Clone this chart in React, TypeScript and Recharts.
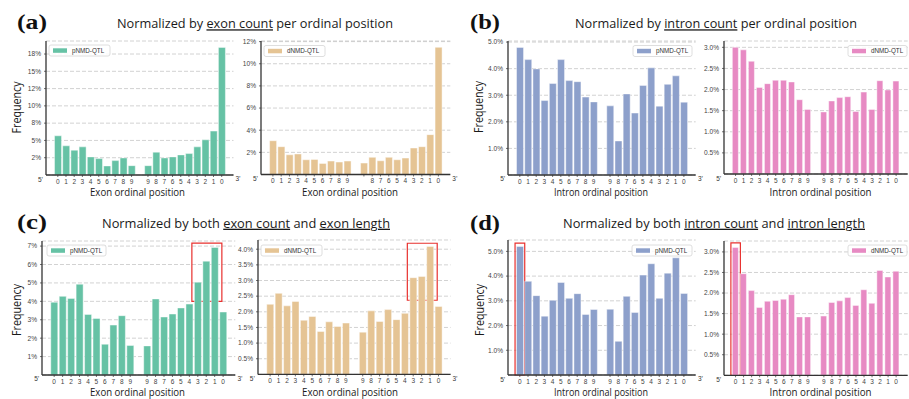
import React from 'react';
import { BarChart, Bar, XAxis, YAxis, CartesianGrid, ReferenceArea } from 'recharts';

// Ordinal position labels: counted from the 5' end, then from the 3' end
const fromFivePrime = ['0', '1', '2', '3', '4', '5', '6', '7', '8', '9'];
const fromThreePrime = ['9', '8', '7', '6', '5', '4', '3', '2', '1', '0'];
const fromThreePrimeExonD = ['', '8', '7', '6', '5', '4', '3', '2', '1', '0'];

// Frequencies (%), 10 positions from the 5' end followed by 10 from the 3' end
const exonCountP = [5.67, 4.22, 3.59, 4.07, 2.62, 2.37, 1.31, 2.08, 2.47, 1.35, 1.35, 3.3, 2.47, 2.62, 2.91, 3.1, 4.07, 5.09, 6.35, 18.46];
const exonCountD = [3.05, 2.51, 1.78, 1.85, 1.33, 1.36, 1.0, 1.21, 1.12, 1.21, 1.03, 1.55, 1.24, 1.55, 1.33, 1.48, 2.39, 2.51, 3.6, 11.48];
const intronCountP = [4.8, 4.34, 3.99, 2.8, 3.44, 4.34, 3.55, 3.51, 2.93, 2.75, 2.6, 1.28, 3.05, 2.33, 3.37, 4.03, 2.59, 3.41, 3.73, 2.74];
const intronCountD = [3.0, 2.94, 2.67, 2.05, 2.14, 2.22, 2.22, 2.18, 1.76, 1.53, 1.47, 1.73, 1.81, 1.83, 1.48, 1.94, 1.53, 2.21, 1.99, 2.2];
const exonLengthP = [3.95, 4.27, 4.16, 4.93, 3.29, 3.07, 1.67, 2.71, 3.22, 1.6, 1.58, 4.13, 3.15, 3.31, 3.64, 3.85, 5.04, 6.18, 6.93, 3.42];
const exonLengthD = [2.24, 2.59, 2.19, 2.33, 1.73, 1.85, 1.37, 1.68, 1.53, 1.64, 1.35, 2.03, 1.69, 2.07, 1.75, 1.95, 3.09, 3.13, 4.09, 2.17];
const intronLengthP = [5.2, 3.79, 3.21, 2.38, 3.02, 3.74, 3.1, 3.29, 2.45, 2.65, 2.66, 1.36, 3.18, 2.53, 4.04, 4.5, 3.1, 4.12, 4.74, 3.3];
const intronLengthD = [3.11, 2.47, 2.06, 1.65, 1.8, 1.82, 1.85, 1.96, 1.42, 1.42, 1.44, 1.77, 1.81, 1.89, 1.7, 2.08, 1.75, 2.55, 2.39, 2.53];

// Y tick values and their printed labels
const ticksExonCountP = [2.5, 5, 7.5, 10, 12.5, 15, 17.5];
const labelsExonCountP = ['2%', '5%', '8%', '10%', '12%', '15%', '18%'];
const ticksExonCountD = [2, 4, 6, 8, 10, 12];
const labelsExonCountD = ['2%', '4%', '6%', '8%', '10%', '12%'];
const ticksWholeFive = [1, 2, 3, 4, 5];
const labelsWholeFive = ['1.0%', '2.0%', '3.0%', '4.0%', '5.0%'];
const ticksHalfThree = [0.5, 1, 1.5, 2, 2.5, 3];
const labelsHalfThree = ['0.5%', '1.0%', '1.5%', '2.0%', '2.5%', '3.0%'];
const ticksExonLengthP = [1, 2, 3, 4, 5, 6, 7];
const labelsExonLengthP = ['1%', '2%', '3%', '4%', '5%', '6%', '7%'];
const ticksHalfFour = [0.5, 1, 1.5, 2, 2.5, 3, 3.5, 4];
const labelsHalfFour = ['0.5%', '1.0%', '1.5%', '2.0%', '2.5%', '3.0%', '3.5%', '4.0%'];

// Highlight boxes: [slot from, slot to, frequency from, frequency to]
const boxExonLengthP = [16.3, 19.85, 4.0, 7.16];
const boxExonLengthD = [16.3, 19.85, 2.37, 4.19];
const boxIntronLengthP = [-0.58, 0.6, 0, 5.33];
const boxIntronLengthD = [-0.58, 0.6, 0, 3.22];

const GREEN = '#66c2a5';
const TAN = '#e5c494';
const BLUE = '#8da0cb';
const PINK = '#e78ac3';
const SPINE = '#333333';
const X_DOMAIN: [number, number] = [-1.44, 21.44];
const TICK_FONT = 'Liberation Sans, Arial, sans-serif';
const TEXT_FONT = 'Open Sans, Noto Sans, sans-serif';
const CANVAS_W = 909;
const CANVAS_H = 399;

const slotTicks = [...fromFivePrime.map((_, k) => k), ...fromThreePrime.map((_, k) => k + 11)];

type PanelCfg = {
  values: number[];
  name: string;
  color: string;
  threePrime: string[];
  yTicks: number[];
  yLabels: string[];
  plot: { l: number; t: number; r: number; b: number };
  legend: { x: number; y: number; w: number };
  box?: number[];
};

const panels: PanelCfg[] = [
  { values: exonCountP, name: 'pNMD-QTL', color: GREEN, threePrime: fromThreePrime, yTicks: ticksExonCountP, yLabels: labelsExonCountP, plot: { l: 46, t: 41, r: 233.5, b: 175 }, legend: { x: 49, y: 45, w: 61 } },
  { values: exonCountD, name: 'dNMD-QTL', color: TAN, threePrime: fromThreePrimeExonD, yTicks: ticksExonCountD, yLabels: labelsExonCountD, plot: { l: 261, t: 41, r: 450.3, b: 174.5 }, legend: { x: 264, y: 45.5, w: 61 } },
  { values: intronCountP, name: 'pNMD-QTL', color: BLUE, threePrime: fromThreePrime, yTicks: ticksWholeFive, yLabels: labelsWholeFive, plot: { l: 508.3, t: 40.7, r: 696, b: 174.7 }, legend: { x: 633, y: 45.5, w: 59 } },
  { values: intronCountD, name: 'dNMD-QTL', color: PINK, threePrime: fromThreePrime, yTicks: ticksHalfThree, yLabels: labelsHalfThree, plot: { l: 724.3, t: 41.3, r: 908, b: 174.3 }, legend: { x: 848, y: 45.5, w: 59 } },
  { values: exonLengthP, name: 'pNMD-QTL', color: GREEN, threePrime: fromThreePrime, yTicks: ticksExonLengthP, yLabels: labelsExonLengthP, plot: { l: 42.2, t: 240.7, r: 235.5, b: 374.7 }, legend: { x: 47, y: 245, w: 59 }, box: boxExonLengthP },
  { values: exonLengthD, name: 'dNMD-QTL', color: TAN, threePrime: fromThreePrime, yTicks: ticksHalfFour, yLabels: labelsHalfFour, plot: { l: 257.9, t: 240.3, r: 450.5, b: 374.7 }, legend: { x: 261, y: 245, w: 61 }, box: boxExonLengthD },
  { values: intronLengthP, name: 'pNMD-QTL', color: BLUE, threePrime: fromThreePrime, yTicks: ticksWholeFive, yLabels: labelsWholeFive, plot: { l: 508.3, t: 240, r: 696, b: 375 }, legend: { x: 632, y: 245, w: 60 }, box: boxIntronLengthP },
  { values: intronLengthD, name: 'dNMD-QTL', color: PINK, threePrime: fromThreePrime, yTicks: ticksHalfThree, yLabels: labelsHalfThree, plot: { l: 724.3, t: 240.7, r: 908, b: 375 }, legend: { x: 848, y: 245, w: 59 }, box: boxIntronLengthD },
];

const PAD_L = 44;
const PAD_T = 6;
const PAD_R = 6;
const PAD_B = 22;

function Panel({ cfg }: { cfg: PanelCfg }) {
  const { l, t, r, b } = cfg.plot;
  const rows = cfg.values.map((v, k) => ({ slot: k < 10 ? k : k + 1, v }));
  const yTop = Math.max(...cfg.values) * 1.05;
  const slotLabel = (s: number) => (s < 10 ? fromFivePrime[s] : cfg.threePrime[s - 11]);
  const yLabel = (v: number) => {
    const i = cfg.yTicks.indexOf(v);
    return i >= 0 ? cfg.yLabels[i] : '';
  };
  const spine = { stroke: SPINE, strokeWidth: 1.3 };
  return (
    <div style={{ position: 'absolute', left: l - PAD_L, top: t - PAD_T }}>
      <BarChart
        width={r - l + PAD_L + PAD_R}
        height={b - t + PAD_T + PAD_B}
        data={rows}
        margin={{ top: PAD_T, right: PAD_R, bottom: 0, left: 0 }}
        barCategoryGap="10%"
      >
        <CartesianGrid vertical={false} stroke="#c6c6c6" strokeDasharray="4 2" strokeWidth={0.8} />
        <XAxis
          dataKey="slot"
          type="number"
          domain={X_DOMAIN}
          allowDataOverflow
          ticks={slotTicks}
          interval={0}
          tickFormatter={slotLabel}
          tick={{ fontSize: 6.5, fill: '#444', fontFamily: TICK_FONT }}
          tickSize={2}
          tickMargin={2}
          height={PAD_B}
          axisLine={spine}
          tickLine={{ stroke: SPINE, strokeWidth: 0.7 }}
        />
        <XAxis xAxisId="top" orientation="top" dataKey="slot" type="number" domain={X_DOMAIN} allowDataOverflow tick={false} tickLine={false} height={0} axisLine={spine} />
        <YAxis
          type="number"
          domain={[0, yTop]}
          allowDataOverflow
          ticks={cfg.yTicks}
          interval={0}
          tickFormatter={yLabel}
          tick={{ fontSize: 6.6, fill: '#444', fontFamily: TICK_FONT }}
          tickSize={2}
          tickMargin={3}
          width={PAD_L}
          axisLine={spine}
          tickLine={{ stroke: SPINE, strokeWidth: 0.7 }}
        />
        <YAxis yAxisId="right" orientation="right" type="number" domain={[0, yTop]} allowDataOverflow tick={false} tickLine={false} width={0} axisLine={spine} />
        <Bar dataKey="v" fill={cfg.color} stroke="#ffffff" strokeOpacity={0.55} strokeWidth={0.8} isAnimationActive={false} />
        {cfg.box && (
          <ReferenceArea
            x1={cfg.box[0]}
            x2={cfg.box[1]}
            y1={cfg.box[2]}
            y2={cfg.box[3]}
            fill="none"
            fillOpacity={0}
            stroke="#e8302e"
            strokeWidth={1.2}
            ifOverflow="visible"
          />
        )}
      </BarChart>
    </div>
  );
}

type Part = { s: string; u?: boolean };
const titles: { parts: Part[]; x: number; y: number; w: number }[] = [
  { parts: [{ s: 'Normalized by ' }, { s: 'exon count', u: true }, { s: ' per ordinal position' }], x: 255, y: 28.3, w: 276 },
  { parts: [{ s: 'Normalized by ' }, { s: 'intron count', u: true }, { s: ' per ordinal position' }], x: 716, y: 28.3, w: 282 },
  { parts: [{ s: 'Normalized by both ' }, { s: 'exon count', u: true }, { s: ' and ' }, { s: 'exon length', u: true }], x: 246, y: 227.7, w: 288 },
  { parts: [{ s: 'Normalized by both ' }, { s: 'intron count', u: true }, { s: ' and ' }, { s: 'intron length', u: true }], x: 714, y: 227.7, w: 302 },
];
const letters = [
  { s: '(a)', x: 17, y: 29 },
  { s: '(b)', x: 470, y: 29 },
  { s: '(c)', x: 17, y: 229 },
  { s: '(d)', x: 470, y: 229.5 },
];
const freqLabels = [
  { x: 21, y: 107.5 },
  { x: 482.5, y: 107 },
  { x: 21, y: 310 },
  { x: 483.5, y: 310 },
];
const axisTitles = [
  { s: 'Exon ordinal position', x: 137.5, y: 195.5, w: 95 },
  { s: 'Exon ordinal position', x: 350, y: 195.5, w: 96 },
  { s: 'Intron ordinal position', x: 601, y: 196, w: 94 },
  { s: 'Intron ordinal position', x: 820.5, y: 196, w: 102 },
  { s: 'Exon ordinal position', x: 137.5, y: 395.5, w: 95 },
  { s: 'Exon ordinal position', x: 350, y: 395.5, w: 96 },
  { s: 'Intron ordinal position', x: 601, y: 396, w: 94 },
  { s: 'Intron ordinal position', x: 820.5, y: 396, w: 102 },
];

function Overlay() {
  return (
    <svg width={CANVAS_W} height={CANVAS_H} style={{ position: 'absolute', left: 0, top: 0, pointerEvents: 'none' }}>
      {titles.map((tt, i) => (
        <text key={'t' + i} x={tt.x} y={tt.y} textAnchor="middle" textLength={tt.w} lengthAdjust="spacingAndGlyphs" fontFamily={TEXT_FONT} fontSize={13} fill="#1a1a1a">
          {tt.parts.map((p, j) => (
            <tspan key={j} style={p.u ? { textDecoration: 'underline' } : undefined}>{p.s}</tspan>
          ))}
        </text>
      ))}
      {letters.map((lt, i) => (
        <text key={'l' + i} x={lt.x} y={lt.y} textLength={30} lengthAdjust="spacingAndGlyphs" fontFamily="Liberation Serif, Times New Roman, serif" fontWeight="bold" fontSize={22} fill="#111">
          {lt.s}
        </text>
      ))}
      {freqLabels.map((f, i) => (
        <text key={'f' + i} x={f.x} y={f.y} transform={`rotate(-90 ${f.x} ${f.y})`} textAnchor="middle" textLength={52} lengthAdjust="spacingAndGlyphs" fontFamily={TEXT_FONT} fontSize={13} fill="#1a1a1a">
          Frequency
        </text>
      ))}
      {axisTitles.map((a, i) => (
        <text key={'a' + i} x={a.x} y={a.y} textAnchor="middle" textLength={a.w} lengthAdjust="spacingAndGlyphs" fontFamily={TEXT_FONT} fontSize={11.5} fill="#1a1a1a">
          {a.s}
        </text>
      ))}
      {panels.map((p, i) => (
        <g key={'e' + i} fontFamily={TICK_FONT} fontSize={6.5} fill="#333">
          <text x={p.plot.l - 3} y={p.plot.b + 6.5} textAnchor="end">5’</text>
          {/* the 3' end marker only fits for panels that end inside the canvas */}
          {p.plot.r + 8 < CANVAS_W && (
            <text x={p.plot.r + 2} y={p.plot.b + 6} textAnchor="start">3’</text>
          )}
        </g>
      ))}
      {panels.map((p, i) => (
        <g key={'g' + i}>
          <rect x={p.legend.x} y={p.legend.y} width={p.legend.w} height={11} rx={2} fill="#ffffff" fillOpacity={0.85} stroke="#d6d6d6" strokeWidth={0.8} />
          <rect x={p.legend.x + 4} y={p.legend.y + 3.3} width={14} height={4.5} fill={p.color} />
          <text x={p.legend.x + 23} y={p.legend.y + 7.8} fontFamily={TICK_FONT} fontSize={6.3} fill="#333">
            {p.name}
          </text>
        </g>
      ))}
    </svg>
  );
}

export default function App() {
  return (
    <div style={{ position: 'absolute', left: 0, top: 0, width: CANVAS_W, height: CANVAS_H, background: '#ffffff', overflow: 'hidden' }}>
      {panels.map((p, i) => (
        <Panel key={i} cfg={p} />
      ))}
      <Overlay />
    </div>
  );
}
